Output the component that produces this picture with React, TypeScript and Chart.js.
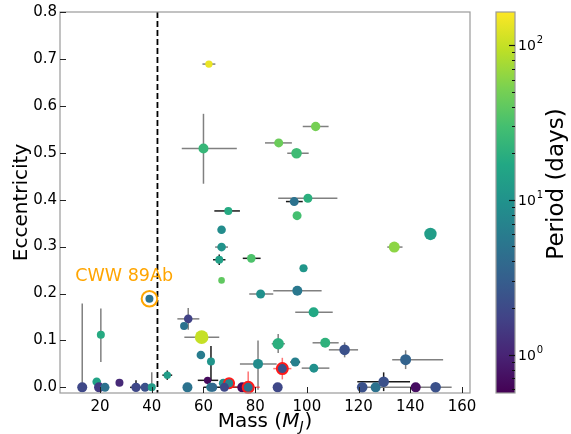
import React, { useEffect, useRef } from "react";
import { Chart, registerables } from "chart.js";
Chart.register(...registerables);

// ---- data ----
const mass = [
  62.1, 60.0, 103.4, 89.1, 96.0, 100.4, 95.1, 96.2, 147.8, 133.8,
  69.6, 67.0, 67.0, 66.1, 67.0, 78.5, 98.7, 82.1, 96.3, 102.6,
  88.9, 107.1, 114.6, 81.1, 95.5, 90.5, 102.7, 138.2, 39.1, 54.1,
  52.5, 59.3, 20.3, 59.0, 62.9, 46.0, 61.6, 18.7, 27.5, 67.7,
  69.9, 13.1, 19.6, 21.9, 33.9, 37.4, 40.0, 53.8, 62.8, 63.6,
  68.1, 75.0, 77.3, 88.7, 121.4, 126.6, 129.7, 142.1, 149.8,
];
const ecc = [
  0.689, 0.509, 0.556, 0.521, 0.499, 0.403, 0.396, 0.366, 0.327, 0.299,
  0.376, 0.336, 0.299, 0.272, 0.228, 0.275, 0.254, 0.199, 0.206, 0.160,
  0.093, 0.095, 0.080, 0.050, 0.054, 0.040, 0.041, 0.059, 0.189, 0.146,
  0.131, 0.107, 0.112, 0.069, 0.055, 0.026, 0.015, 0.012, 0.010, 0.009,
  0.009, 0.0, 0.0, 0.0, 0.0, 0.0, 0.0, 0.0, 0.0, 0.0,
  0.0, 0.0, 0.0, 0.0, 0.0, 0.0, 0.012, 0.0, 0.0,
];
const periodDays = [
  140, 24, 50, 45, 27, 20, 4.8, 30, 13, 62,
  18, 8.5, 10, 14, 40, 33, 11, 9.5, 5.4, 17,
  20, 21, 2.3, 8.5, 6.4, 2.3, 9.5, 3.4, 4.8, 1.7,
  4.8, 100, 18, 6, 10.5, 13, 0.66, 15, 1.1, 9.5,
  7, 1.9, 1.5, 4.8, 1.9, 2.3, 13, 4.8, 5.4, 4,
  1.9, 0.66, 4.8, 1.9, 2.3, 4.8, 2.3, 0.7, 2.3,
];
const markerRadius = [
  3.7, 5, 4.7, 4.5, 5.3, 4.5, 4.5, 4.5, 6.2, 5.5,
  4, 4.3, 4.3, 4, 3.3, 4.3, 4, 4.5, 5, 5,
  5.7, 5, 5.3, 5, 4.5, 4.5, 4.5, 5.5, 4, 4.3,
  4, 6.8, 4, 4.3, 4, 3.7, 3.7, 4.3, 4, 4.5,
  4, 5, 5, 4.5, 4.7, 4.5, 4, 5, 4.5, 4.5,
  4.5, 5, 4.5, 5, 5.3, 5, 5.3, 5, 5.3,
];
const xErrMinus = [
  2.5, 8.4, 5, 5.3, 3.6, 11.5, 3.2, 0, 0, 2.7,
  5.4, 0, 2.5, 2.4, 0, 3.3, 1.5, 4.4, 9.3, 7.1,
  2.5, 4.9, 6.1, 7, 1.9, 3.5, 4.7, 5.2, 0, 4.2,
  0, 6.7, 0, 0, 0, 1.9, 3.8, 0, 0, 0,
  0, 0, 0, 0, 2.3, 0, 0, 0, 0, 0,
  8.1, 0, 8, 0, 0, 0, 10.2, 0, 30,
];
const xErrPlus = [
  2.5, 12.9, 5, 5.1, 4.7, 11.4, 3.3, 0, 0, 3.2,
  4.5, 0, 2.5, 2.4, 0, 3.6, 1.5, 4.9, 9.4, 7.4,
  2.6, 5.2, 5.2, 7.2, 1.9, 3.5, 6, 14.5, 0, 4.3,
  0, 6.8, 0, 0, 0, 1.9, 4.1, 0, 0, 0,
  0, 0, 0, 0, 2.3, 0, 0, 0, 0, 0,
  11.5, 0, 4.5, 0, 0, 0, 10.2, 0, 6.2,
];
const yErrMinus = [
  0, 0.075, 0, 0, 0, 0, 0, 0, 0, 0,
  0, 0, 0, 0.011, 0, 0, 0, 0, 0, 0,
  0.02, 0, 0.016, 0.055, 0, 0.023, 0, 0.02, 0, 0.023,
  0, 0, 0.058, 0, 0.04, 0.01, 0, 0, 0, 0,
  0, 0, 0, 0, 0, 0, 0, 0, 0, 0,
  0, 0, 0.005, 0, 0, 0, 0.02, 0, 0,
];
const yErrPlus = [
  0, 0.074, 0, 0, 0, 0, 0, 0, 0, 0,
  0, 0, 0, 0.011, 0, 0, 0, 0, 0, 0,
  0.021, 0, 0.016, 0.05, 0, 0.023, 0, 0.02, 0, 0.023,
  0, 0, 0.056, 0, 0.033, 0.01, 0, 0, 0, 0,
  0, 0.179, 0, 0, 0.015, 0, 0.032, 0, 0, 0,
  0, 0, 0.034, 0, 0, 0, 0.02, 0, 0,
];
// 0 = gray, 1 = black, 2 = red
const errKind = [
  0, 0, 0, 0, 0, 0, 1, 0, 0, 0,
  1, 0, 0, 1, 0, 1, 0, 0, 0, 0,
  0, 0, 0, 0, 1, 2, 0, 0, 0, 0,
  0, 0, 0, 0, 1, 1, 1, 0, 0, 0,
  0, 0, 0, 0, 1, 0, 0, 0, 0, 0,
  1, 0, 2, 0, 0, 0, 1, 0, 0,
];
const redEdge = [
  0, 0, 0, 0, 0, 0, 0, 0, 0, 0,
  0, 0, 0, 0, 0, 0, 0, 0, 0, 0,
  0, 0, 0, 0, 0, 1, 0, 0, 0, 0,
  0, 0, 0, 0, 0, 0, 0, 0, 0, 0,
  1, 0, 0, 0, 0, 0, 0, 0, 0, 0,
  0, 0, 1, 0, 0, 0, 0, 0, 0,
];

const xTicks = [20, 40, 60, 80, 100, 120, 140, 160];
const yTicks = [0.0, 0.1, 0.2, 0.3, 0.4, 0.5, 0.6, 0.7, 0.8];
const cbarMajorExp = [0, 1, 2];
const cbarMinor = [0.6, 0.7, 0.8, 0.9, 2, 3, 4, 5, 6, 7, 8, 9, 20, 30, 40, 50, 60, 70, 80, 90];
const periodMin = 0.564;
const periodMax = 164;
const cwwMass = 39.1;
const cwwEcc = 0.189;
const cwwLabel = "CWW 89Ab";
const limitMass = 42.2;

// matplotlib viridis stops (colormap definition)
const viridis = [
  "#440154", "#482475", "#414487", "#355f8d", "#2a788e", "#21918c",
  "#22a884", "#44bf70", "#7ad151", "#bddf26", "#fde725",
];

function hexToRgb(h: string) {
  return [parseInt(h.slice(1, 3), 16), parseInt(h.slice(3, 5), 16), parseInt(h.slice(5, 7), 16)];
}
function viridisColor(t: number) {
  t = Math.max(0, Math.min(1, t));
  const f = t * (viridis.length - 1);
  const i = Math.min(viridis.length - 2, Math.floor(f));
  const u = f - i;
  const a = hexToRgb(viridis[i]);
  const b = hexToRgb(viridis[i + 1]);
  const c = a.map((v, k) => Math.round(v + (b[k] - v) * u));
  return `rgb(${c[0]},${c[1]},${c[2]})`;
}
const lmin = Math.log10(periodMin);
const lmax = Math.log10(periodMax);
function periodT(p: number) {
  return (Math.log10(p) - lmin) / (lmax - lmin);
}

const FONT = "'DejaVu Sans', 'Liberation Sans', sans-serif";

const customPlugin = {
  id: "customDraw",
  beforeDatasetsDraw(chart: any) {
    const { ctx, chartArea: ca, scales } = chart;
    const x = scales.x, y = scales.y;
    ctx.save();
    // vertical dashed line
    ctx.strokeStyle = "#000";
    ctx.lineWidth = 1.8;
    ctx.setLineDash([6, 3]);
    const lx = x.getPixelForValue(limitMass);
    ctx.beginPath();
    ctx.moveTo(lx, ca.top);
    ctx.lineTo(lx, ca.bottom);
    ctx.stroke();
    ctx.setLineDash([]);
    // error bars
    const cols = ["#808080", "#1a1a1a", "rgba(255,40,40,0.65)"];
    ctx.lineWidth = 1.5;
    for (let i = 0; i < mass.length; i++) {
      ctx.strokeStyle = cols[errKind[i]];
      const px = x.getPixelForValue(mass[i]);
      const py = y.getPixelForValue(ecc[i]);
      if (xErrMinus[i] > 0 || xErrPlus[i] > 0) {
        ctx.beginPath();
        ctx.moveTo(x.getPixelForValue(mass[i] - xErrMinus[i]), py);
        ctx.lineTo(x.getPixelForValue(mass[i] + xErrPlus[i]), py);
        ctx.stroke();
      }
      if (yErrMinus[i] > 0 || yErrPlus[i] > 0) {
        ctx.beginPath();
        ctx.moveTo(px, y.getPixelForValue(ecc[i] - yErrMinus[i]));
        ctx.lineTo(px, y.getPixelForValue(ecc[i] + yErrPlus[i]));
        ctx.stroke();
      }
    }
    ctx.restore();
  },
  afterDatasetsDraw(chart: any) {
    const { ctx, chartArea: ca, scales } = chart;
    const x = scales.x, y = scales.y;
    ctx.save();
    // orange ring + label
    const cx = x.getPixelForValue(cwwMass);
    const cy = y.getPixelForValue(cwwEcc);
    ctx.strokeStyle = "#ffa500";
    ctx.lineWidth = 2;
    ctx.beginPath();
    ctx.arc(cx, cy, 7.8, 0, Math.PI * 2);
    ctx.stroke();
    ctx.fillStyle = "#ffa500";
    ctx.font = `17.5px ${FONT}`;
    ctx.textAlign = "left";
    ctx.textBaseline = "alphabetic";
    ctx.fillText(cwwLabel, x.getPixelForValue(10.4), y.getPixelForValue(0.227));

    // frame
    ctx.strokeStyle = "#9a9a9a";
    ctx.lineWidth = 1.2;
    ctx.strokeRect(ca.left, ca.top, ca.right - ca.left, ca.bottom - ca.top);
    // inward ticks
    ctx.strokeStyle = "#222";
    ctx.lineWidth = 1;
    for (const v of yTicks) {
      const py = Math.round(y.getPixelForValue(v)) + 0.5;
      ctx.beginPath();
      ctx.moveTo(ca.left, py);
      ctx.lineTo(ca.left + 6, py);
      ctx.stroke();
    }
    for (const v of xTicks) {
      const px = Math.round(x.getPixelForValue(v)) + 0.5;
      ctx.beginPath();
      ctx.moveTo(px, ca.bottom);
      ctx.lineTo(px, ca.bottom - 6);
      ctx.stroke();
    }

    // axis titles
    ctx.fillStyle = "#000";
    ctx.font = `20px ${FONT}`;
    ctx.save();
    ctx.translate(22, (ca.top + ca.bottom) / 2);
    ctx.rotate(-Math.PI / 2);
    ctx.textAlign = "center";
    ctx.textBaseline = "middle";
    ctx.fillText("Eccentricity", 0, 0);
    ctx.restore();

    // Mass (M_J)
    const p1 = "Mass (";
    const p2 = "M";
    const p3 = "J";
    const p4 = ")";
    const fReg = `20px ${FONT}`;
    const fIt = `italic 20px ${FONT}`;
    const fSub = `italic 14px ${FONT}`;
    ctx.font = fReg; const w1 = ctx.measureText(p1).width; const w4 = ctx.measureText(p4).width;
    ctx.font = fIt; const w2 = ctx.measureText(p2).width;
    ctx.font = fSub; const w3 = ctx.measureText(p3).width;
    const total = w1 + w2 + w3 + 1 + w4;
    let tx = (ca.left + ca.right) / 2 - total / 2;
    const by = 427;
    ctx.textAlign = "left";
    ctx.textBaseline = "alphabetic";
    ctx.font = fReg; ctx.fillText(p1, tx, by); tx += w1;
    ctx.font = fIt; ctx.fillText(p2, tx, by); tx += w2;
    ctx.font = fSub; ctx.fillText(p3, tx, by + 4); tx += w3 + 1;
    ctx.font = fReg; ctx.fillText(p4, tx, by);

    // colorbar
    const cbL = 496, cbR = 515, cbT = ca.top, cbB = ca.bottom;
    const grad = ctx.createLinearGradient(0, cbB, 0, cbT);
    viridis.forEach((c, k) => grad.addColorStop(k / (viridis.length - 1), c));
    ctx.fillStyle = grad;
    ctx.fillRect(cbL, cbT, cbR - cbL, cbB - cbT);
    ctx.strokeStyle = "#9a9a9a";
    ctx.lineWidth = 1.2;
    ctx.strokeRect(cbL, cbT, cbR - cbL, cbB - cbT);
    const pyOf = (p: number) => cbB - periodT(p) * (cbB - cbT);
    ctx.strokeStyle = "#111";
    ctx.lineWidth = 1;
    for (const p of cbarMinor) {
      const py = Math.round(pyOf(p)) + 0.5;
      ctx.beginPath(); ctx.moveTo(cbR, py); ctx.lineTo(cbR - 3, py); ctx.stroke();
    }
    ctx.lineWidth = 1.2;
    for (const e of cbarMajorExp) {
      const py = Math.round(pyOf(Math.pow(10, e))) + 0.5;
      ctx.beginPath(); ctx.moveTo(cbR, py); ctx.lineTo(cbR - 6, py); ctx.stroke();
      ctx.fillStyle = "#000";
      ctx.font = `14px ${FONT}`;
      ctx.textAlign = "left";
      ctx.textBaseline = "middle";
      ctx.fillText("10", cbR + 3, py + 1);
      const w = ctx.measureText("10").width;
      ctx.font = `10px ${FONT}`;
      ctx.fillText(String(e), cbR + 3 + w + 1, py - 5);
    }
    ctx.save();
    ctx.translate(563, 184);
    ctx.rotate(-Math.PI / 2);
    ctx.fillStyle = "#000";
    ctx.font = `23px ${FONT}`;
    ctx.textAlign = "center";
    ctx.textBaseline = "alphabetic";
    ctx.fillText("Period (days)", 0, 0);
    ctx.restore();

    ctx.restore();
  },
};

export default function App() {
  const ref = useRef<HTMLCanvasElement | null>(null);
  useEffect(() => {
    if (!ref.current) return;
    const colors = periodDays.map((p) => viridisColor(periodT(p)));
    const chart = new Chart(ref.current, {
      type: "scatter",
      data: {
        datasets: [
          {
            data: mass.map((m, i) => ({ x: m, y: ecc[i] })),
            pointRadius: markerRadius.map((r, i) => (redEdge[i] ? r + 1 : r)),
            pointHoverRadius: markerRadius,
            pointBackgroundColor: colors,
            pointBorderColor: redEdge.map((r, i) => (r ? "#ff1a1a" : colors[i])),
            pointBorderWidth: redEdge.map((r) => (r ? 2 : 0)),
            clip: false as any,
          },
        ],
      },
      options: {
        responsive: false,
        animation: false,
        events: [],
        layout: { padding: { left: 0, right: 101, top: 10, bottom: 0 } },
        plugins: { legend: { display: false }, tooltip: { enabled: false } },
        scales: {
          x: {
            type: "linear",
            min: 4.5,
            max: 163.1,
            afterBuildTicks: (s: any) => { s.ticks = xTicks.map((v) => ({ value: v })); },
            afterFit: (s: any) => { s.height = 41; },
            grid: { display: false, drawTicks: false },
            border: { display: false },
            ticks: {
              color: "#000",
              font: { family: FONT, size: 15 },
              padding: 5,
              maxRotation: 0,
              autoSkip: false,
              callback: (v: any) => String(v),
            },
          },
          y: {
            type: "linear",
            min: -0.012,
            max: 0.8,
            afterBuildTicks: (s: any) => { s.ticks = yTicks.map((v) => ({ value: v })); },
            afterFit: (s: any) => { s.width = 60; },
            grid: { display: false, drawTicks: false },
            border: { display: false },
            ticks: {
              color: "#000",
              font: { family: FONT, size: 15 },
              padding: 3,
              autoSkip: false,
              callback: (v: any) => Number(v).toFixed(1),
            },
          },
        },
      },
      plugins: [customPlugin],
    });
    return () => chart.destroy();
  }, []);
  return (
    <div style={{ position: "absolute", left: 0, top: 0, width: 571, height: 434, background: "#fff" }}>
      <canvas ref={ref} width={571} height={434} style={{ display: "block" }} />
    </div>
  );
}
